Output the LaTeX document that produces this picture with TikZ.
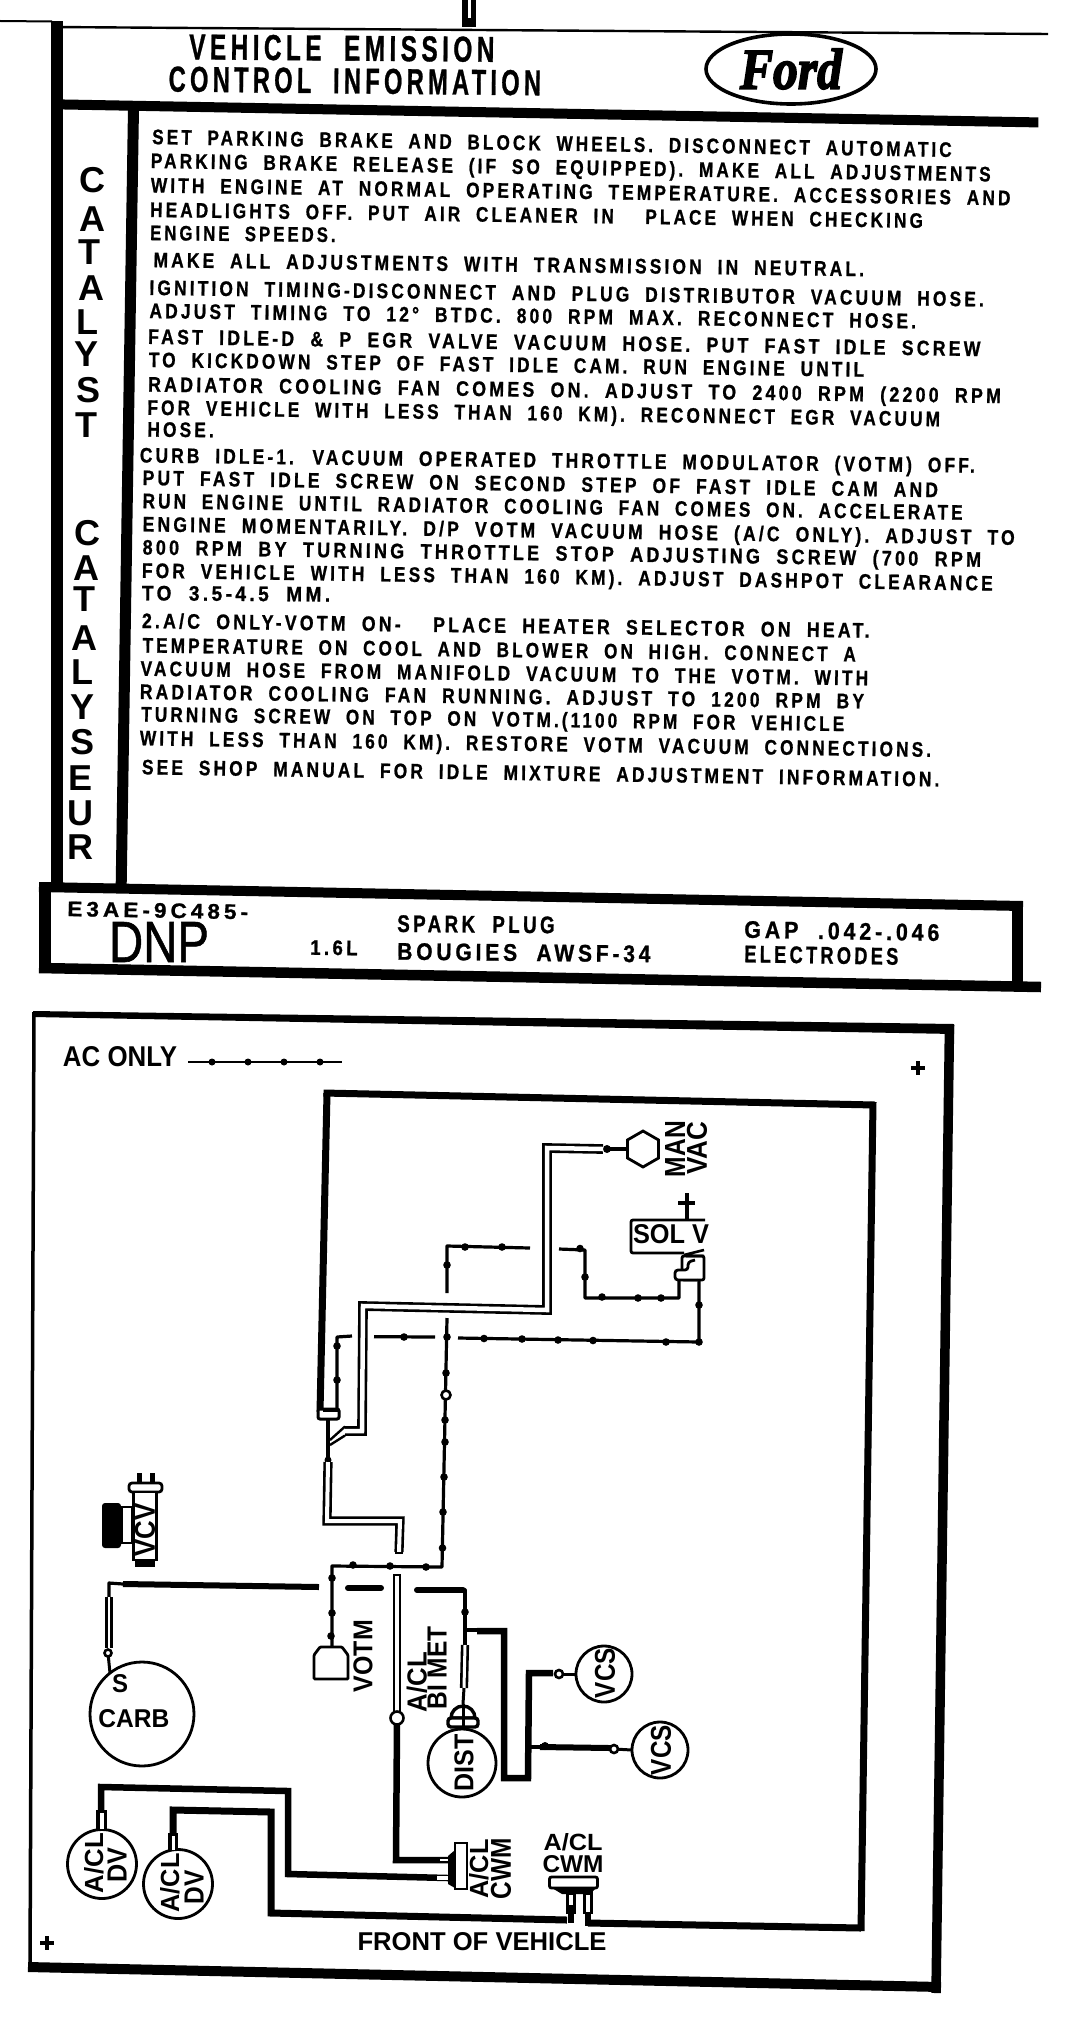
\documentclass[tikz,border=0pt]{standalone}
\usepackage{fontspec}
\usepackage{graphicx}
\usetikzlibrary{shapes.geometric}
\setmainfont{Liberation Sans}
\newfontfamily\fordfont[FakeBold=3]{Liberation Serif Bold Italic}
\newfontfamily\panelfont[LetterSpace=18,WordSpace=2,FakeBold=1]{Liberation Sans Bold}
% text line fitted between two points given in the 1.461 x 1.552 measuring grid
\newcommand\tline[7][21]{%
  \pgfmathsetmacro\tlx{(#5-#3)/1.461}%
  \pgfmathsetmacro\tly{(#6-#4)/1.552}%
  \pgfmathsetmacro\tlw{veclen(\tlx,\tly)}%
  \pgfmathsetmacro\tla{-atan2(\tly,\tlx)}%
  \pgfmathsetmacro\tls{0.358*#1}%
  \path ({#3/1.461},{#4/1.552}) ++(0pt,-\tls pt) node[anchor=base west,inner sep=0pt,rotate=\tla] (#2)
    {\resizebox{\tlw pt}{\height}{\panelfont\fontsize{#1}{#1}\selectfont #7}};%
}
% label fitted to a box
\newcommand\lab[7][0]{%
  \node[inner sep=0pt,rotate=#1] (#2) at (#3,#4) {\resizebox{#5pt}{#6pt}{\bfseries #7}};%
}
\newcommand\ltr[4]{\path ({#2/1.461},{#3/1.552}) node[inner sep=0pt] (#1) {\fontsize{36}{36}\selectfont\bfseries #4};}
\tikzset{
  rulebar/.style={line width=#1,line cap=butt},
  thin hose/.style={line width=3.2pt,line join=round,line cap=butt},
  thick hose/.style={line width=6.5pt,line join=miter,line cap=butt},
  twin hose/.style={line width=2.6pt,double=white,double distance=#1,line join=miter,line cap=butt},
  comp/.style={draw,line width=2.8pt,circle,inner sep=0pt,outer sep=0pt,fill=white},
  part/.style={draw,line width=2.8pt,inner sep=0pt,outer sep=0pt,fill=white,rectangle},
  opendot/.style={draw,line width=2.6pt,circle,fill=white,inner sep=0pt,outer sep=0pt}
}
\begin{document}
\begin{tikzpicture}[x=1pt,y=-1pt]
\useasboundingbox (0,0) rectangle (1072,2028);
\fill[white] (0,0) rectangle (1072,2028);
% ---------- upper panel ----------
\draw[line width=2pt] (0,21) -- (52,21.5);
\draw[line width=2.4pt] (52,27) -- (1048,34);
\fill (462,0) rectangle (476,27);
\fill[white] (468,0) rectangle (470.5,18);
\begin{scope}[x=0.68446pt,y=-0.64433pt]
 \draw[rulebar=11.5pt] (83,33) -- (83,1378);
 \draw[rulebar=10pt] (85,162) -- (1517,190);
 \draw[rulebar=11pt] (195,170) -- (177,1378);
\end{scope}
\draw[rulebar=10pt] (39,887) -- (1023,906);
\draw[rulebar=11pt] (1017.5,902) -- (1017.5,985);
\draw[rulebar=10.5pt] (39,968) -- (1041,987);
\draw[rulebar=12pt] (45,882) -- (45,973);
\tline[36]{t1}{276}{72}{722}{76}{VEHICLE EMISSION}
\tline[36]{t2}{246}{122}{790}{128}{CONTROL INFORMATION}
\node[draw,ellipse,line width=3.6pt,minimum width=170pt,minimum height=70pt,inner sep=0pt] (ford) at (791,69) {\resizebox{102pt}{40pt}{\fordfont Ford}};
\ltr{c1}{135}{280}{C}\ltr{c2}{135}{340}{A}\ltr{c3}{131}{392}{T}\ltr{c4}{133}{447}{A}\ltr{c5}{128}{500}{L}\ltr{c6}{127}{550}{Y}\ltr{c7}{130}{605}{S}\ltr{c8}{127}{660}{T}
\ltr{d1}{128}{828}{C}\ltr{d2}{126}{882}{A}\ltr{d3}{123}{930}{T}\ltr{d4}{124}{990}{A}\ltr{d5}{120}{1043}{L}\ltr{d6}{120}{1098}{Y}\ltr{d7}{120}{1152}{S}\ltr{d8}{118}{1208}{E}\ltr{d9}{118}{1262}{U}\ltr{d10}{118}{1315}{R}
\tline{l1}{222}{212}{1390}{232}{SET PARKING BRAKE AND BLOCK WHEELS. DISCONNECT AUTOMATIC}
\tline{l2}{220}{249}{1447}{270}{PARKING BRAKE RELEASE (IF SO EQUIPPED). MAKE ALL ADJUSTMENTS}
\tline{l3}{220}{287}{1476}{307}{WITH ENGINE AT NORMAL OPERATING TEMPERATURE. ACCESSORIES AND}
\tline{l4}{219}{325}{1348}{342}{HEADLIGHTS OFF. PUT AIR CLEANER IN\ \ PLACE WHEN CHECKING}
\tline{l5}{219}{361}{490}{364}{ENGINE SPEEDS.}
\tline{l6}{224}{403}{1262}{417}{MAKE ALL ADJUSTMENTS WITH TRANSMISSION IN NEUTRAL.}
\tline{l7}{218}{446}{1437}{464}{IGNITION TIMING-DISCONNECT AND PLUG DISTRIBUTOR VACUUM HOSE.}
\tline{l8}{218}{482}{1338}{498}{ADJUST TIMING TO 12° BTDC. 800 RPM MAX. RECONNECT HOSE.}
\tline{l9}{216}{522}{1432}{541}{FAST IDLE-D \& P EGR VALVE VACUUM HOSE. PUT FAST IDLE SCREW}
\tline{l10}{217}{558}{1262}{573}{TO KICKDOWN STEP OF FAST IDLE CAM. RUN ENGINE UNTIL}
\tline{l11}{216}{596}{1462}{614}{RADIATOR COOLING FAN COMES ON. ADJUST TO 2400 RPM (2200 RPM}
\tline{l12}{215}{632}{1373}{650}{FOR VEHICLE WITH LESS THAN 160 KM). RECONNECT EGR VACUUM}
\tline{l13}{215}{666}{312}{667}{HOSE.}
\tline{l14}{204}{706}{1424}{722}{CURB IDLE-1. VACUUM OPERATED THROTTLE MODULATOR (VOTM) OFF.}
\tline{l15}{208}{741}{1370}{760}{PUT FAST IDLE SCREW ON SECOND STEP OF FAST IDLE CAM AND}
\tline{l16}{208}{777}{1406}{795}{RUN ENGINE UNTIL RADIATOR COOLING FAN COMES ON. ACCELERATE}
\tline{l17}{208}{813}{1482}{834}{ENGINE MOMENTARILY. D/P VOTM VACUUM HOSE (A/C ONLY). ADJUST TO}
\tline{l18}{208}{849}{1433}{868}{800 RPM BY TURNING THROTTLE STOP ADJUSTING SCREW (700 RPM}
\tline{l19}{207}{885}{1450}{905}{FOR VEHICLE WITH LESS THAN 160 KM). ADJUST DASHPOT CLEARANCE}
\tline{l20}{207}{920}{482}{922}{TO 3.5-4.5 MM.}
\tline{l21}{207}{963}{1270}{978}{2.A/C ONLY-VOTM ON-\ \ PLACE HEATER SELECTOR ON HEAT.}
\tline{l22}{208}{1001}{1250}{1015}{TEMPERATURE ON COOL AND BLOWER ON HIGH. CONNECT A}
\tline{l23}{205}{1037}{1268}{1052}{VACUUM HOSE FROM MANIFOLD VACUUM TO THE VOTM. WITH}
\tline{l24}{204}{1073}{1262}{1088}{RADIATOR COOLING FAN RUNNING. ADJUST TO 1200 RPM BY}
\tline{l25}{206}{1108}{1233}{1123}{TURNING SCREW ON TOP ON VOTM.(1100 RPM FOR VEHICLE}
\tline{l26}{204}{1145}{1360}{1163}{WITH LESS THAN 160 KM). RESTORE VOTM VACUUM CONNECTIONS.}
\tline{l27}{207}{1190}{1372}{1209}{SEE SHOP MANUAL FOR IDLE MIXTURE ADJUSTMENT INFORMATION.}
\tline{b1}{98}{1410}{362}{1415}{E3AE-9C485-}
\path (159,942) node[inner sep=0pt] (dnp) {\resizebox{100pt}{40pt}{\addfontfeatures{FakeBold=1}DNP}};
\tline{b2}{453}{1470}{522}{1471}{1.6L}
\tline[24]{b3}{580}{1433}{810}{1435}{SPARK PLUG}
\tline[24]{b4}{580}{1476}{950}{1480}{BOUGIES AWSF-34}
\tline[24]{b5}{1087}{1442}{1372}{1447}{GAP .042-.046}
\tline[24]{b6}{1087}{1480}{1312}{1484}{ELECTRODES}
% ---------- lower panel frame ----------
\fill (33,1011) -- (954,1024) -- (954,1034) -- (33,1017) -- cycle;
\draw[line width=3.5pt] (34,1012) -- (30,1968);
\draw[line width=9.5pt] (949.5,1025) -- (936,1993);
\draw[line width=10pt] (28,1967) -- (941,1987);
% legend and marks
\lab{aconly}{120}{1057}{114}{20}{AC ONLY}
\coordinate (lega) at (188,1062); \coordinate (legb) at (342,1062);
\draw[thin hose,line width=2.5pt] (lega) -- (legb);
\foreach \x in {212,248,284,320} \fill (\x,1062) circle (3.5pt);
\draw[line width=3.2pt] (911,1068) -- (925,1068) (918,1061) -- (918,1075);
\draw[line width=3.2pt] (40,1943) -- (54,1943) (47,1936) -- (47,1950);
\lab{front}{482}{1942}{249}{18}{FRONT OF VEHICLE}
% ---------- components ----------
\node[comp,regular polygon,regular polygon sides=6,shape border rotate=30,minimum size=36pt] (manvac) at (643,1149) {};
\lab[90]{man}{675}{1149}{56}{20}{MAN}
\lab[90]{vac}{697}{1148}{53}{20}{VAC}
\node[comp,minimum size=104pt] (carb) at (142,1714) {};
\lab{s}{120}{1684}{16}{18}{S}
\lab{carbt}{134}{1719}{71}{18}{CARB}
\node[comp,minimum size=68pt] (dist) at (462,1763) {};
\node[comp,minimum size=56pt] (vcsa) at (604,1674) {};
\node[comp,minimum size=56pt] (vcsb) at (660,1750) {};
\node[comp,minimum size=69pt] (dva) at (102,1864) {};
\node[comp,minimum size=69pt] (dvb) at (178,1884) {};
% solenoid
\draw[line width=2.8pt,rounded corners=2pt] (705,1220) -- (631,1220) -- (631,1253) -- (684,1253);
\coordinate (solplus) at (687,1193);
\draw[line width=3.2pt] (solplus) -- (687,1220);
\draw[line width=3.2pt] (678,1203) -- (695,1203);
\lab{solv}{671}{1234.5}{76}{19}{SOL V}
\node[part,rounded corners=2pt,minimum width=22pt,minimum height=24pt] (valve) at (693,1268) {};
\draw[line width=2.6pt] (684,1255) -- (704,1250) (686,1256) -- (704,1256);
\draw[line width=2.8pt,fill=white,rounded corners=3pt] (695,1260) -- (688,1262) -- (688,1270) -- (675,1270) -- (675,1280) -- (697,1280);
% hoses: AC only (dotted line)
\coordinate (ap) at (337,1408);
\draw[thin hose] (ap) -- (337,1337) -- (352,1336);
\draw[thin hose] (374,1336.7) -- (435,1337);
\draw[thin hose] (458,1338) -- (699,1342) -- (699,1280);
\draw[thin hose] (447,1318) -- (442,1567) -- (332,1566) -- (332,1648);
\draw[thin hose] (447,1293) -- (447,1246) -- (530,1248);
\draw[thin hose] (559,1249) -- (585,1250) -- (585,1298) -- (679,1298) -- (679,1280);
\foreach \p in {(337,1380),(337,1346),(404,1337),(484,1338.5),(522,1339),(558,1340),(593,1340.5),(666,1342),(699,1342),(699,1305),
  (447,1337),(446,1373),(445,1420),(445,1442),(444,1477),(443,1512),(442.5,1548),
  (353,1565),(390,1566),(426,1567),(332,1578),(332,1613),(331,1636),
  (447,1265),(465,1247),(502,1247),(580,1248.5),(585,1277),(602,1297),(638,1298),(661,1298)}
  \fill \p circle (3.8pt);
\node[opendot,minimum size=9pt] (acv) at (446,1395) {};
% votm actuator
\draw[line width=2.8pt,fill=white,rounded corners=1pt] (314,1679) -- (348,1679) -- (348,1655) -- (342,1647) -- (320,1647) -- (314,1655) -- cycle;
\lab[90]{votm}{363}{1656}{72}{19}{VOTM}
% twin hoses
\draw[thin hose,line width=4pt] (607,1149) -- (manvac.west);
\fill (607,1149) circle (4pt);
\draw[twin hose=4.5pt] (603,1149) -- (547,1148) -- (547,1310) -- (363,1306) -- (362,1431) -- (345,1431);
\draw[line width=2.4pt] (345,1426.5) -- (330,1440) (345,1435.5) -- (330,1445);
\draw[rulebar=7pt] (327,1093) -- (320,1412);
\draw[rulebar=7pt] (323.5,1093) -- (875,1105);
\draw[rulebar=7pt] (873,1102) -- (861,1931);
\draw[rulebar=7pt] (861,1928) -- (588,1923);
\draw[rulebar=7pt] (567,1920) -- (271,1913) -- (271,1812) -- (173,1810) -- (173,1848);
\draw[line width=3pt,fill=white,rounded corners=2pt] (318,1409) rectangle (339,1419);
\fill (323,1412) rectangle (339,1408);
\draw[line width=3.2pt] (328,1420) -- (328,1460);
\fill (328,1460) circle (3.5pt);
\draw[twin hose=4pt] (328,1462) -- (327,1521) -- (400,1521) -- (399,1552);
\draw[line width=2.4pt] (395,1553) -- (403,1553);
% carb hose
\draw[thin hose,line width=6pt] (319,1587) -- (123,1584);
\draw[thin hose] (123,1584) -- (109,1583) -- (109,1597);
\draw[twin hose=2.6pt] (109,1597) -- (109,1648);
\node[opendot,minimum size=7pt] (carbv) at (108,1653) {};
\draw[line width=3pt] (carbv) -- (carb.128);
% dashes
\draw[line width=6pt,line cap=round] (348,1588) -- (381,1588);
\draw[line width=6pt,line cap=round] (417,1590) -- (463,1590);
\draw[thin hose] (463,1590) -- (465,1590) -- (465,1645);
\fill (465,1612) circle (3.8pt);
\draw[twin hose=3pt] (465,1645) -- (464,1688);
\draw[line width=3pt] (464,1688) -- (463,1704);
% dist cap
\draw[line width=3.4pt,fill=white] (451,1718) arc[start angle=180,end angle=0,radius=12pt] -- cycle;
\draw[line width=3.4pt,fill=white,rounded corners=3pt] (448,1718) rectangle (478,1727);
\fill (461.5,1704) rectangle (464.5,1727);
% a/cl hose
\draw[twin hose=3.2pt] (397,1575) -- (397,1713);
\draw[line width=2.4pt] (393,1575) -- (401,1575);
\node[opendot,minimum size=13pt] (aclv) at (397,1718) {};
\draw[rulebar=6.5pt] (aclv) ++(0,6) -- (396,1860) -- (450,1860);
% a/cl cwm side
\node[part,minimum width=12pt,minimum height=46pt] (cwma) at (461,1866) {};
\fill (455,1850) -- (448,1856) -- (448,1884) -- (455,1888) -- cycle;
\draw[rulebar=6.5pt] (101,1822) -- (101,1787) -- (288,1791) -- (288,1874) -- (448,1878);
\fill[white] (437,1876) rectangle (448,1880);
\fill[white] (440,1858.5) rectangle (448,1861);
% dv tips
\fill (96,1810) rectangle (107,1829);
\fill[white] (99.5,1813) rectangle (103.5,1829);
\fill (168,1833) rectangle (178,1850);
\fill[white] (171.5,1836) rectangle (174.5,1850);
% bimet and vcs hoses
\draw[thin hose] (465,1630) -- (477,1630);
\draw[thick hose] (477,1631) -- (504,1631) -- (504,1778) -- (528,1778) -- (529,1673) -- (553,1673);
\node[opendot,minimum size=8pt] (vd1) at (559,1674) {};
\draw[line width=3pt] (vd1) -- (vcsa.west);
\draw[thin hose] (530,1747) -- (540,1747);
\draw[thin hose,line width=6pt] (540,1747) -- (610,1748);
\fill (545,1746) circle (4pt);
\node[opendot,minimum size=8pt] (vd2) at (614,1749) {};
\draw[line width=3pt] (vd2) -- (vcsb.west);
% front cwm
\fill (552,1888) -- (562,1894) -- (590,1894) -- (596,1888) -- cycle;
\node[part,rounded corners=2pt,minimum width=48pt,minimum height=11pt] (cwmb) at (573.5,1882.5) {};
\draw[line width=10pt] (571,1890) -- (571,1914);
\draw[line width=10pt] (588,1890) -- (588,1914);
\draw[line width=6pt] (571,1914) -- (571,1923);
\draw[line width=6pt] (588,1914) -- (588,1926);
\fill[white] (569,1895) rectangle (573,1905);
\fill[white] (586,1895) rectangle (590,1912);
% labels
\lab[90]{acl1}{417}{1682}{60}{20}{A/CL}
\lab[90]{bimet}{437}{1668}{83}{19}{BI MET}
\lab[90]{distt}{464}{1763}{57}{19}{DIST}
\lab[90]{vcst1}{605}{1673}{50}{20}{VCS}
\lab[90]{vcst2}{661}{1750}{50}{20}{VCS}
\lab[90]{acl2}{479}{1869}{59}{19}{A/CL}
\lab[90]{cwm2}{501}{1869}{61}{20}{CWM}
\lab{acl3}{573}{1842}{59}{17}{A/CL}
\lab{cwm3}{573}{1864}{61}{17}{CWM}
\lab[90]{acl4}{94}{1863}{60}{19}{A/CL}
\lab[90]{dv4}{117}{1865}{35}{19}{DV}
\lab[90]{acl5}{170}{1883}{59}{19}{A/CL}
\lab[90]{dv5}{194}{1887}{34}{19}{DV}
% vcv
\fill (137,1473) rectangle (142,1483);
\fill (150,1473) rectangle (155,1483);
\node[part,rounded corners=3pt,minimum width=33pt,minimum height=9pt] (vcvcap) at (145.5,1487.5) {};
\node[part,minimum width=23pt,minimum height=68pt] (vcv) at (145,1526) {};
\fill (135,1561) rectangle (155,1567);
\fill[rounded corners=3pt] (102,1503) rectangle (121,1548);
\node[part,minimum width=11pt,minimum height=36pt] (vcvb) at (127,1525) {};
\lab[90]{vcvt}{145}{1530}{53}{20}{VCV}
\end{tikzpicture}
\end{document}
